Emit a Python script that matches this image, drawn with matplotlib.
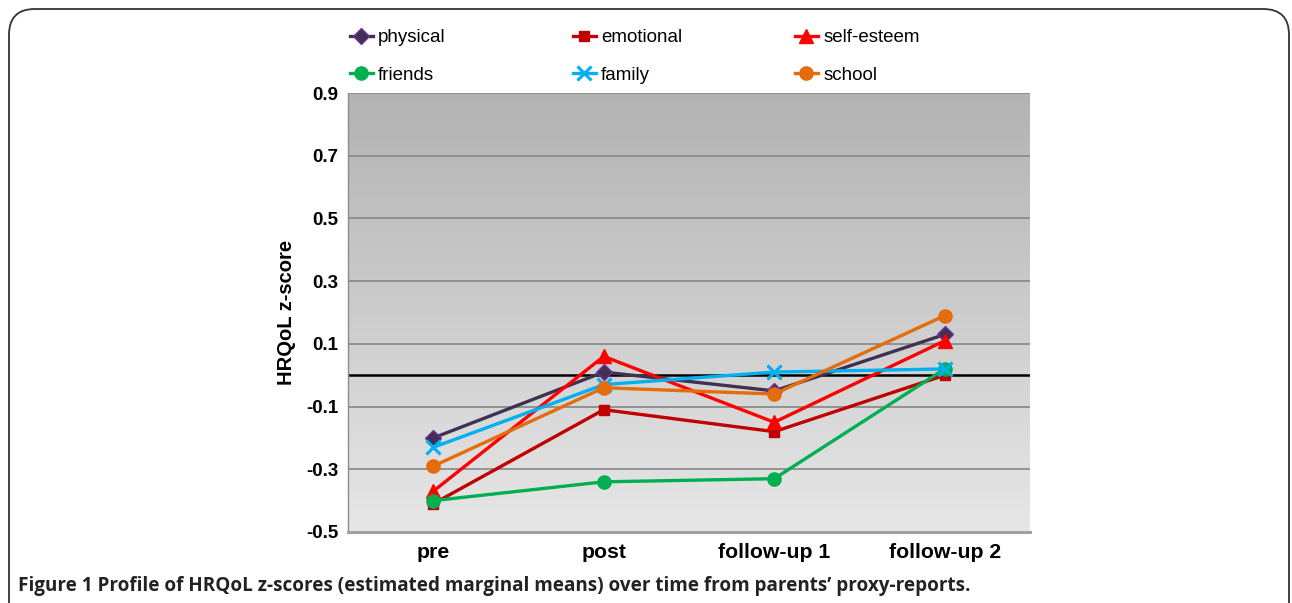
import numpy as np
import matplotlib
matplotlib.use("Agg")
import matplotlib.pyplot as plt
from matplotlib.patches import FancyBboxPatch
from matplotlib.lines import Line2D

categories = ["pre", "post", "follow-up 1", "follow-up 2"]
physical = [-0.20, 0.01, -0.05, 0.13]
emotional = [-0.41, -0.11, -0.18, 0.00]
self_esteem = [-0.37, 0.06, -0.15, 0.11]
friends = [-0.40, -0.34, -0.33, 0.02]
family = [-0.23, -0.03, 0.01, 0.02]
school = [-0.29, -0.04, -0.06, 0.19]
yticks = [-0.5, -0.3, -0.1, 0.1, 0.3, 0.5, 0.7, 0.9]
caption = "Figure 1 Profile of HRQoL z-scores (estimated marginal means) over time from parents\u2019 proxy-reports."

series = [
    ("physical", physical, dict(color="#403152", marker="D", ms=8, mfc="#403152", mec="#7030A0", mew=1.0)),
    ("emotional", emotional, dict(color="#C00000", marker="s", ms=7.5, mfc="#C00000", mec="#C00000", mew=1.0)),
    ("self-esteem", self_esteem, dict(color="#FF0000", marker="^", ms=10, mfc="#FF0000", mec="#FF0000", mew=1.0)),
    ("friends", friends, dict(color="#00B050", marker="o", ms=9.5, mfc="#00B050", mec="#00B050", mew=1.0)),
    ("family", family, dict(color="#00B0F0", marker="x", ms=10, mfc="#00B0F0", mec="#00B0F0", mew=2.2)),
    ("school", school, dict(color="#E46C0A", marker="o", ms=9.5, mfc="#E46C0A", mec="#E46C0A", mew=1.0)),
]

W, H = 1292, 603
fig = plt.figure(figsize=(W / 100, H / 100), dpi=100)
fig.patch.set_facecolor("white")

# rounded frame
frame = FancyBboxPatch((9 / W, -0.2), (1289 - 9) / W, (H - 9) / H + 0.2,
                       boxstyle="round,pad=0,rounding_size=0.02",
                       transform=fig.transFigure, fill=False,
                       edgecolor="#333333", linewidth=1.3, mutation_aspect=W / H)
fig.patches.append(frame)

left, right, top, bottom = 348, 1030, 93, 532
ax = fig.add_axes([left / W, (H - bottom) / H, (right - left) / W, (bottom - top) / H])

ymin, ymax = -0.5, 0.9
x = np.arange(len(categories))
ax.set_xlim(-0.5, len(categories) - 0.5)
ax.set_ylim(ymin, ymax)

# gradient background
grad = np.linspace(0, 1, 256).reshape(-1, 1)
top_c = np.array([0.70, 0.70, 0.70])
bot_c = np.array([0.905, 0.905, 0.905])
img = top_c[None, None, :] * (1 - grad[:, :, None]) + bot_c[None, None, :] * grad[:, :, None]
ax.imshow(img, extent=(-0.5, len(categories) - 0.5, ymin, ymax), aspect="auto",
          origin="upper", zorder=0)

for yv in yticks:
    ax.axhline(yv, color="#8c8c8c", lw=1.3, zorder=1)
ax.axhline(0, color="black", lw=1.8, zorder=2)

for name, vals, st in series:
    ax.plot(x, vals, lw=2.4, label=name, zorder=3, **st)

for s in ["top", "right"]:
    ax.spines[s].set_visible(False)
ax.spines["left"].set_color("#8c8c8c")
ax.spines["left"].set_linewidth(1.0)
ax.spines["bottom"].set_color("#a0a0a0")
ax.spines["bottom"].set_linewidth(2.2)

ax.set_yticks(yticks)
ax.set_yticklabels([f"{v:.1f}" for v in yticks], fontsize=13.5, fontweight="bold",
                   family="Liberation Sans")
ax.set_xticks(x)
ax.set_xticklabels(categories, fontsize=15.3, fontweight="bold", family="Liberation Sans")
ax.tick_params(axis="both", length=0)
ax.tick_params(axis="y", pad=7)
ax.tick_params(axis="x", pad=8)
ax.set_ylabel("HRQoL z-score", fontsize=14.5, fontweight="bold", family="Liberation Sans",
              labelpad=7.5)

# legend: three columns placed at the reference positions
handles = {name: Line2D([], [], lw=2.4, **st) for name, vals, st in series}
cols = [["physical", "friends"], ["emotional", "family"], ["self-esteem", "school"]]
col_x = [350, 573, 795]
for cx, names in zip(col_x, cols):
    lg = fig.legend([handles[n] for n in names], names, loc="upper left",
                    bbox_to_anchor=(cx / W, 1 - 29 / H), bbox_transform=fig.transFigure,
                    frameon=False, borderpad=0, borderaxespad=0, handlelength=1.2,
                    handletextpad=0.3, labelspacing=1.1,
                    prop=dict(family="Liberation Sans", size=13.5))

fig.text(18 / W, 1 - 586 / H, caption, ha="left", va="center", fontsize=13.6,
         fontweight="bold", family="Open Sans", color="#222222")

fig.savefig("out.png", dpi=100)
